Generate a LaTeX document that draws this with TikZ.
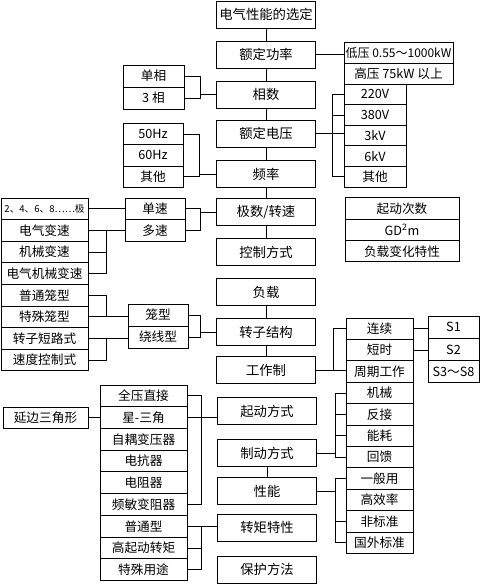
\documentclass[tikz,border=0pt]{standalone}
\usepackage{fontspec}
\newfontfamily\cjk{Noto Sans CJK SC}
\usetikzlibrary{positioning}

\begin{document}
\begin{tikzpicture}[
  x=0.75pt, y=-0.75pt,
  node distance=0pt,
  every node/.style={font=\cjk\fontsize{9.5}{11}\selectfont},
  box/.style={draw, line width=0.6pt, inner sep=1pt, outer sep=0pt, align=center},
  main/.style={box, minimum width=74.25pt, minimum height=20.25pt, font=\cjk\fontsize{10}{12}\selectfont},
  cell/.style={box, minimum width=#1, minimum height=16.2pt},
  link/.style={line width=0.5pt}
]
\useasboundingbox (0,0) rectangle (480,584);

\node[main] (title) at (266,14.5) {电气性能的选定};
\node[main] (power) at (266,54.5) {额定功率};
\node[main] (phase) at (266,94.5) {相数};
\node[main] (voltage) at (266,133.5) {额定电压};
\node[main] (freq) at (266,174) {频率};
\node[main] (poles) at (266,212) {极数/转速};
\node[main] (ctrl) at (266,252) {控制方式};
\node[main] (load) at (266,292) {负载};
\node[main] (rotor) at (266,332) {转子结构};
\node[main] (duty) at (266,370) {工作制};
\node[main] (start) at (267,411) {起动方式};
\node[main] (brake) at (267,453) {制动方式};
\node[main] (perf) at (267,491) {性能};
\node[main] (torque) at (267,527.5) {转矩特性};
\node[main] (protect) at (267,569.5) {保护方法};

\node[cell=81.75pt, minimum height=15.75pt, font=\cjk\fontsize{9}{11}\selectfont] (lowv) at (398.5,52.5) {低压 0.55～1000kW};
\node[cell=81.75pt, minimum height=15.75pt, below=of lowv] (highv) {高压 75kW 以上};

\node[cell=46.5pt, minimum height=15.45pt] (v220) at (375,94.3) {220V};
\node[cell=46.5pt, minimum height=15.45pt, below=of v220] (v380) {380V};
\node[cell=46.5pt, minimum height=15.45pt, below=of v380] (v3k) {3kV};
\node[cell=46.5pt, minimum height=15.45pt, below=of v3k] (v6k) {6kV};
\node[cell=46.5pt, minimum height=15.45pt, below=of v6k] (vother) {其他};

\node[cell=45.75pt, minimum height=16.5pt] (single) at (153.5,76) {单相};
\node[cell=45.75pt, minimum height=16.5pt, below=of single] (three) {3 相};

\node[cell=45pt, minimum height=16pt] (f50) at (153,134) {50Hz};
\node[cell=45pt, minimum height=16pt, below=of f50] (f60) {60Hz};
\node[cell=45pt, minimum height=16pt, below=of f60] (fother) {其他};

\node[cell=45pt, minimum height=16.1pt] (onespeed) at (155,208.8) {单速};
\node[cell=45pt, minimum height=16.1pt, below=of onespeed] (multispeed) {多速};

\node[cell=65.25pt, font=\cjk\fontsize{7.2}{10}\selectfont] (pole2468) at (44.5,208.8) {2、4、6、8……极};
\node[cell=65.25pt, below=of pole2468] (elecvar) {电气变速};
\node[cell=65.25pt, below=of elecvar] (mechvar) {机械变速};
\node[cell=65.25pt, below=of mechvar] (elmechvar) {电气机械变速};
\node[cell=65.25pt, below=of elmechvar] (normcage) {普通笼型};
\node[cell=65.25pt, below=of normcage] (specage) {特殊笼型};
\node[cell=65.25pt, below=of specage] (rotshort) {转子短路式};
\node[cell=65.25pt, below=of rotshort] (speedctrl) {速度控制式};

\node[cell=45pt, minimum height=16.5pt] (cage) at (158,315) {笼型};
\node[cell=45pt, minimum height=16.5pt, below=of cage] (wound) {绕线型};

\node[cell=85.5pt, minimum height=16pt] (nstart) at (402,208.5) {起动次数};
\node[cell=85.5pt, minimum height=16pt, below=of nstart] (gd) {GD\textsuperscript{2}m};
\node[cell=85.5pt, minimum height=16pt, below=of gd] (loadvar) {负载变化特性};

\node[cell=50.25pt, minimum height=16.05pt] (cont) at (379.5,328.7) {连续};
\node[cell=50.25pt, minimum height=16.05pt, below=of cont] (short) {短时};
\node[cell=50.25pt, minimum height=16.05pt, below=of short] (period) {周期工作};
\node[cell=50.25pt, minimum height=16.05pt, below=of period] (mech) {机械};
\node[cell=50.25pt, minimum height=16.05pt, below=of mech] (plug) {反接};
\node[cell=50.25pt, minimum height=16.05pt, below=of plug] (dyn) {能耗};
\node[cell=50.25pt, minimum height=16.05pt, below=of dyn] (regen) {回馈};
\node[cell=50.25pt, minimum height=16.05pt, below=of regen] (general) {一般用};
\node[cell=50.25pt, minimum height=16.05pt, below=of general] (higheff) {高效率};
\node[cell=50.25pt, minimum height=16.05pt, below=of higheff] (nonstd) {非标准};
\node[cell=50.25pt, minimum height=16.05pt, below=of nonstd] (foreign) {国外标准};

\node[cell=38.25pt, minimum height=16.7pt] (s1) at (453.5,327.1) {S1};
\node[cell=38.25pt, minimum height=16.7pt, below=of s1] (s2) {S2};
\node[cell=38.25pt, minimum height=16.7pt, below=of s2] (s38) {S3～S8};

\node[cell=65.25pt, minimum height=16.3pt] (fullv) at (143.5,395.8) {全压直接};
\node[cell=65.25pt, minimum height=16.3pt, below=of fullv] (stardelta) {星-三角};
\node[cell=65.25pt, minimum height=16.3pt, below=of stardelta] (autotr) {自耦变压器};
\node[cell=65.25pt, minimum height=16.3pt, below=of autotr] (reactor) {电抗器};
\node[cell=65.25pt, minimum height=16.3pt, below=of reactor] (resistor) {电阻器};
\node[cell=65.25pt, minimum height=16.3pt, below=of resistor] (freqrheo) {频敏变阻器};
\node[cell=65.25pt, minimum height=16.3pt, below=of freqrheo] (normal) {普通型};
\node[cell=65.25pt, minimum height=16.3pt, below=of normal] (hightq) {高起动转矩};
\node[cell=65.25pt, minimum height=16.3pt, below=of hightq] (special) {特殊用途};

\node[cell=63.75pt, minimum height=15.75pt] (extdelta) at (45.5,417.5) {延边三角形};

\draw[link] (title) -- (power);
\draw[link] (power) -- (phase);
\draw[link] (phase) -- (voltage);
\draw[link] (voltage) -- (freq);
\draw[link] (freq) -- (poles);
\draw[link] (poles) -- (ctrl);
\draw[link] (load) -- (rotor);
\draw[link] (rotor) -- (duty);
\draw[link] (brake) -- (perf);

\draw[link] (power.east) -- (power.east -| lowv.west);
\draw[link] (v220.west) -- ++(-12,0) coordinate (vbr) |- (vother.west);
\draw[link] (v380.west) -- (v380.west -| vbr);
\draw[link] (voltage.east) -- (voltage.east -| v3k.west);

\draw[link] (single.east) -- ++(16,0) coordinate (phbr) |- (three.east);
\draw[link] (phase.west) -- (phase.west -| phbr);
\draw[link] (f50.east) -- ++(16,0) coordinate (fbr) |- (fother.east);
\draw[link] (freq.west) -- (freq.west -| fbr);

\draw[link] (pole2468.east) -- (pole2468.east -| onespeed.west);
\draw[link] (onespeed.east) -- ++(15,0) coordinate (spbr) |- (multispeed.east);
\draw[link] (poles.west) -- (poles.west -| spbr);
\draw[link] (elecvar.east) -- (elecvar.east -| multispeed.west);
\draw[link] (elecvar.east) -- ++(18,0) coordinate (mvbr) |- (elmechvar.east);
\draw[link] (mechvar.east) -- (mechvar.east -| mvbr);
\draw[link] (normcage.east) -- ++(18,0) |- (specage.east);
\draw[link] (specage.east) -- (specage.east -| cage.west);
\draw[link] (rotshort.east) -- (rotshort.east -| wound.west);
\draw[link] (rotshort.east) -- ++(18,0) |- (speedctrl.east);
\draw[link] (cage.east) -- ++(12,0) coordinate (rbr) |- (wound.east);
\draw[link] (rotor.west) -- (rotor.west -| rbr);

\draw[link] (duty.east) -- (duty.east -| period.west);
\draw[link] (cont.west) -- ++(-13,0) coordinate (wbr) -- (wbr |- duty.east);
\draw[link] (cont.east) -- (cont.east -| s1.west);
\draw[link] (short.east) -- (short.east -| s2.west);

\draw[link] (mech.west) -- ++(-11,0) coordinate (bbr) |- (regen.west);
\draw[link] (plug.west) -- (plug.west -| bbr);
\draw[link] (dyn.west) -- (dyn.west -| bbr);
\draw[link] (brake.east) -- (brake.east -| bbr);
\draw[link] (general.west) -- ++(-11,0) coordinate (ebr) |- (foreign.west);
\draw[link] (nonstd.west) -- (nonstd.west -| ebr);
\draw[link] (perf.east) -- (perf.east -| ebr);

\draw[link] (fullv.east) -- ++(14,0) |- (freqrheo.east);
\draw[link] (stardelta.east) -- (stardelta.east -| start.west);
\draw[link] (extdelta.east) -- (stardelta.west);
\draw[link] (normal.east) -- (normal.east -| torque.west);
\draw[link] (normal.east) -- ++(14,0) coordinate (tbr) |- (special.east);
\draw[link] (hightq.east) -- (hightq.east -| tbr);
\end{tikzpicture}
\end{document}
